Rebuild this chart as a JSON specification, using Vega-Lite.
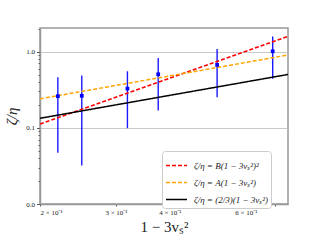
{
  "$schema": "https://vega.github.io/schema/vega-lite/v6.json",
  "width": 248,
  "height": 176,
  "autosize": {"type": "none"},
  "padding": {"left": 40, "top": 28, "right": 32, "bottom": 36},
  "background": "white",
  "config": {
    "view": {"stroke": "#999999", "strokeWidth": 1.5},
    "axis": {
      "labelFont": "Liberation Serif",
      "labelFontSize": 7,
      "labelColor": "#222222",
      "titleFont": "Liberation Serif",
      "titleFontSize": 15,
      "titleFontWeight": "normal",
      "titleColor": "#222222",
      "domainColor": "#999999",
      "domainWidth": 1.5,
      "tickColor": "#555555",
      "gridColor": "#bbbbbb",
      "gridWidth": 0.8
    },
    "legend": {
      "title": null,
      "orient": "none",
      "legendX": 122,
      "legendY": 123,
      "symbolType": "stroke",
      "symbolSize": 441,
      "symbolStrokeWidth": 1.5,
      "labelFont": "Liberation Serif",
      "labelFontStyle": "italic",
      "labelFontSize": 9,
      "labelColor": "#222222",
      "labelOffset": 6,
      "rowPadding": -4,
      "padding": 3,
      "fillColor": "white",
      "strokeColor": "#cccccc",
      "cornerRadius": 3
    }
  },
  "datasets": {
    "obs": [
      {"x": 0.220, "y": 0.260, "lo": 0.047, "hi": 0.460},
      {"x": 0.250, "y": 0.263, "lo": 0.032, "hi": 0.485},
      {"x": 0.319, "y": 0.327, "lo": 0.099, "hi": 0.552},
      {"x": 0.376, "y": 0.504, "lo": 0.169, "hi": 0.827},
      {"x": 0.515, "y": 0.669, "lo": 0.252, "hi": 1.085},
      {"x": 0.693, "y": 1.010, "lo": 0.439, "hi": 1.573}
    ],
    "fits": [
      {"series": "ζ/η = B(1 − 3vₛ²)²", "x": 0.2, "y": 0.112},
      {"series": "ζ/η = B(1 − 3vₛ²)²", "x": 0.752, "y": 1.583},
      {"series": "ζ/η = A(1 − 3vₛ²)", "x": 0.2, "y": 0.240},
      {"series": "ζ/η = A(1 − 3vₛ²)", "x": 0.752, "y": 0.902},
      {"series": "ζ/η = (2/3)(1 − 3vₛ²)", "x": 0.2, "y": 0.1333},
      {"series": "ζ/η = (2/3)(1 − 3vₛ²)", "x": 0.752, "y": 0.5013}
    ]
  },
  "layer": [
    {
      "data": {"name": "obs"},
      "mark": {"type": "rule", "color": "#0000ff", "strokeWidth": 1.4, "opacity": 0.9},
      "encoding": {
        "x": {
          "field": "x", "type": "quantitative",
          "scale": {"type": "log", "domain": [0.2, 0.752], "nice": false},
          "axis": {
            "values": [0.2, 0.3, 0.4, 0.5, 0.6, 0.7],
            "labelExpr": "(datum.value > 0.45 && datum.value < 0.55) || datum.value > 0.65 ? '' : format(datum.value * 10, '.0f') + ' × 10⁻¹'",
            "tickSize": 2,
            "grid": false,
            "labelPadding": 2,
            "title": "1 − 3vₛ²",
            "titlePadding": 4
          }
        },
        "y": {
          "field": "lo", "type": "quantitative",
          "scale": {"type": "log", "domain": [0.01, 2.04], "nice": false},
          "axis": {
            "values": [0.01, 0.02, 0.03, 0.04, 0.05, 0.06, 0.07, 0.08, 0.09, 0.1, 0.2, 0.3, 0.4, 0.5, 0.6, 0.7, 0.8, 0.9, 1, 2],
            "labelExpr": "abs(log(datum.value) / LN10 - round(log(datum.value) / LN10)) < 0.001 ? format(datum.value, '.1f') : ''",
            "gridOpacity": {"expr": "abs(log(datum.value) / LN10 - round(log(datum.value) / LN10)) < 0.001 ? 1 : 0"},
            "tickSize": {"expr": "abs(log(datum.value) / LN10 - round(log(datum.value) / LN10)) < 0.001 ? 3.5 : 2"},
            "grid": true,
            "labelPadding": 2,
            "title": "ζ/η",
            "titleFontStyle": "italic",
            "titlePadding": 6
          }
        },
        "y2": {"field": "hi"}
      }
    },
    {
      "data": {"name": "fits"},
      "mark": {"type": "line", "strokeWidth": 1.5, "clip": true},
      "encoding": {
        "x": {"field": "x", "type": "quantitative"},
        "y": {"field": "y", "type": "quantitative"},
        "color": {
          "field": "series", "type": "nominal",
          "scale": {
            "domain": ["ζ/η = B(1 − 3vₛ²)²", "ζ/η = A(1 − 3vₛ²)", "ζ/η = (2/3)(1 − 3vₛ²)"],
            "range": ["#ff0000", "#ffa500", "#000000"]
          },
          "legend": {"title": null}
        },
        "strokeDash": {
          "field": "series", "type": "nominal",
          "scale": {
            "domain": ["ζ/η = B(1 − 3vₛ²)²", "ζ/η = A(1 − 3vₛ²)", "ζ/η = (2/3)(1 − 3vₛ²)"],
            "range": [[4, 2], [4, 2], [1, 0]]
          },
          "legend": {"title": null}
        }
      }
    },
    {
      "data": {"name": "obs"},
      "mark": {"type": "point", "filled": true, "shape": "square", "size": 14, "color": "#0000ff", "opacity": 1},
      "encoding": {
        "x": {"field": "x", "type": "quantitative"},
        "y": {"field": "y", "type": "quantitative"}
      }
    }
  ]
}
